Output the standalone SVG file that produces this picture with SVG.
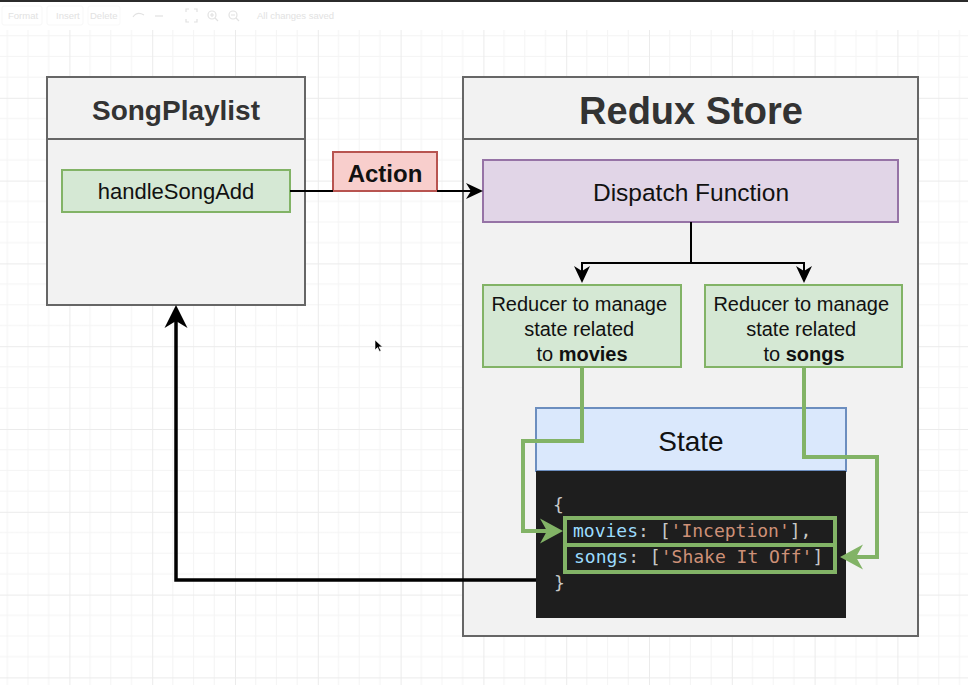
<svg xmlns="http://www.w3.org/2000/svg" width="968" height="685" viewBox="0 0 968 685">
  <style>
    .sans { font-family: "Liberation Sans", Arial, sans-serif; }
    .mono { font-family: "DejaVu Sans Mono", "Liberation Mono", monospace; font-size: 18px; }
    .container { fill: #f2f2f2; stroke: #666666; stroke-width: 2; }
    .green { fill: #d5e8d4; stroke: #82b366; stroke-width: 2; }
    .title { font-weight: bold; fill: #333333; text-anchor: middle; }
    .label { fill: #111111; text-anchor: middle; }
    .edge { fill: none; stroke: #000000; }
    .edge-green { fill: none; stroke: #82b366; stroke-width: 4; }
    .toolbar { font-family: "Liberation Sans", Arial, sans-serif; font-size: 9.5px; fill: #e2e2e2; }
    .tool-icon { fill: none; stroke: #e2e2e2; stroke-width: 1.2; }
    .key { fill: #9cdcfe; }
    .punc { fill: #c8c8c8; }
    .str { fill: #ce9178; }
  </style>
  <defs>
    <pattern id="grid" patternUnits="userSpaceOnUse" x="69.4" y="15" width="82.8" height="82.8">
      <path d="M20.7 0V82.8M41.4 0V82.8M62.1 0V82.8M0 20.7H82.8M0 41.4H82.8M0 62.1H82.8" stroke="#f4f4f4" stroke-width="1" fill="none"/>
      <path d="M0.5 0V82.8M0 0.5H82.8" stroke="#ebebeb" stroke-width="1" fill="none"/>
    </pattern>
    <marker id="head-sm" markerUnits="userSpaceOnUse" viewBox="-17 -9 17 18" markerWidth="17" markerHeight="18" refX="-12" refY="0" orient="auto">
      <path d="M0 0L-17 -8L-12 0L-17 8Z" fill="#000000"/>
    </marker>
    <marker id="head-lg" markerUnits="userSpaceOnUse" viewBox="-23 -12 23 24" markerWidth="23" markerHeight="24" refX="-16" refY="0" orient="auto">
      <path d="M0 0L-23 -11.5L-16 0L-23 11.5Z" fill="#000000"/>
    </marker>
    <marker id="head-green" markerUnits="userSpaceOnUse" viewBox="-23 -13 23 26" markerWidth="23" markerHeight="26" refX="-16" refY="0" orient="auto">
      <path d="M0 0L-23 -12.5L-16 0L-23 12.5Z" fill="#82b366"/>
    </marker>
  </defs>

  <!-- canvas -->
  <rect width="968" height="685" fill="#ffffff"/>
  <rect y="30" width="968" height="655" fill="url(#grid)"/>

  <!-- editor toolbar -->
  <g id="toolbar">
    <rect x="0" y="0" width="968" height="2" fill="#2b2b2b"/>
    <rect x="2" y="6" width="40" height="19" rx="2" fill="none" stroke="#f7f7f7"/>
    <rect x="47" y="6" width="36" height="19" rx="2" fill="none" stroke="#f7f7f7"/>
    <rect x="88" y="6" width="32" height="19" rx="2" fill="none" stroke="#f9f9f9"/>
    <text class="toolbar" x="8" y="19">Format</text>
    <text class="toolbar" x="56" y="19">Insert</text>
    <text class="toolbar" x="90" y="19" fill="#f0f0f0">Delete</text>
    <path class="tool-icon" d="M133 17q4-6 11-2"/>
    <path class="tool-icon" d="M155 16h8" stroke="#f0f0f0"/>
    <path class="tool-icon" d="M186 12v-3h3M194 9h3v3M197 19v3h-3M189 22h-3v-3"/>
    <circle class="tool-icon" cx="212" cy="15" r="4"/>
    <path class="tool-icon" d="M215 18l3 3M210 15h4M212 13v4"/>
    <circle class="tool-icon" cx="233" cy="15" r="4"/>
    <path class="tool-icon" d="M236 18l3 3M231 15h4"/>
    <text class="toolbar" x="257" y="19">All changes saved</text>
  </g>

  <!-- SongPlaylist component -->
  <g id="song-playlist">
    <rect class="container" x="47" y="77" width="258" height="228"/>
    <line x1="47" y1="139" x2="305" y2="139" stroke="#666666" stroke-width="2"/>
    <text class="sans title" x="176" y="120" font-size="28">SongPlaylist</text>
  </g>
  <g id="handle-song-add">
    <rect class="green" x="62" y="170" width="228" height="42"/>
    <text class="sans label" x="176" y="199" font-size="22">handleSongAdd</text>
  </g>

  <!-- Redux Store container -->
  <g id="redux-store">
    <rect class="container" x="463" y="77" width="455" height="559"/>
    <line x1="463" y1="139" x2="918" y2="139" stroke="#666666" stroke-width="2"/>
    <text class="sans title" x="691" y="124" font-size="38">Redux Store</text>
  </g>

  <g id="dispatch-function">
    <rect x="483" y="160" width="415" height="62" fill="#e1d5e7" stroke="#9673a6" stroke-width="2"/>
    <text class="sans label" x="691" y="201" font-size="24.5">Dispatch Function</text>
  </g>

  <g id="reducer-movies">
    <rect class="green" x="483" y="285" width="198" height="82"/>
    <text class="sans label" font-size="20">
      <tspan x="582" y="311">Reducer to manage</tspan>
      <tspan x="582" y="336">state related</tspan>
      <tspan x="582" y="361">to <tspan font-weight="bold">movies</tspan></tspan>
    </text>
  </g>

  <g id="reducer-songs">
    <rect class="green" x="705" y="285" width="197" height="82"/>
    <text class="sans label" font-size="20">
      <tspan x="804" y="311">Reducer to manage</tspan>
      <tspan x="804" y="336">state related</tspan>
      <tspan x="804" y="361">to <tspan font-weight="bold">songs</tspan></tspan>
    </text>
  </g>

  <g id="state">
    <rect x="536" y="408" width="310" height="63" fill="#dae8fc" stroke="#6c8ebf" stroke-width="2"/>
    <text class="sans label" x="691" y="451" font-size="28">State</text>
  </g>

  <g id="state-code">
    <rect x="536" y="471" width="310" height="147" fill="#1e1e1e"/>
    <text class="mono punc" x="553" y="511">{</text>
    <text class="mono" x="573" y="537"><tspan class="key">movies</tspan><tspan class="punc">: [</tspan><tspan class="str">'Inception'</tspan><tspan class="punc">],</tspan></text>
    <text class="mono" x="574" y="563"><tspan class="key">songs</tspan><tspan class="punc">: [</tspan><tspan class="str">'Shake It Off'</tspan><tspan class="punc">]</tspan></text>
    <text class="mono punc" x="554" y="589">}</text>
    <rect x="565" y="518" width="270" height="27" fill="none" stroke="#82b366" stroke-width="4"/>
    <rect x="565" y="545" width="270" height="27" fill="none" stroke="#82b366" stroke-width="4"/>
  </g>

  <g id="action">
    <rect x="333" y="152" width="104" height="39" fill="#f8cecc" stroke="#b85450" stroke-width="2"/>
    <text class="sans label" x="385" y="182" font-size="24" font-weight="bold">Action</text>
  </g>

  <!-- connectors -->
  <g id="connectors">
    <path class="edge" d="M290 191H333M437 191H471" stroke-width="2" marker-end="url(#head-sm)"/>
    <path class="edge" d="M691 222V263H582V271" stroke-width="2" marker-end="url(#head-sm)"/>
    <path class="edge" d="M691 263H804V271" stroke-width="2" marker-end="url(#head-sm)"/>
    <path class="edge-green" d="M582 367V441H523V531H547" marker-end="url(#head-green)"/>
    <path class="edge-green" d="M804 367V457H877V557H856" marker-end="url(#head-green)"/>
    <path class="edge" d="M536 580H176V321" stroke-width="3.5" marker-end="url(#head-lg)"/>
  </g>

  <!-- mouse pointer -->
  <path d="M375 340l0 10l2.5-2.5l2 4l1.5-0.8l-2-3.8h3.5z" fill="#000000" stroke="#ffffff" stroke-width="0.6"/>
</svg>
